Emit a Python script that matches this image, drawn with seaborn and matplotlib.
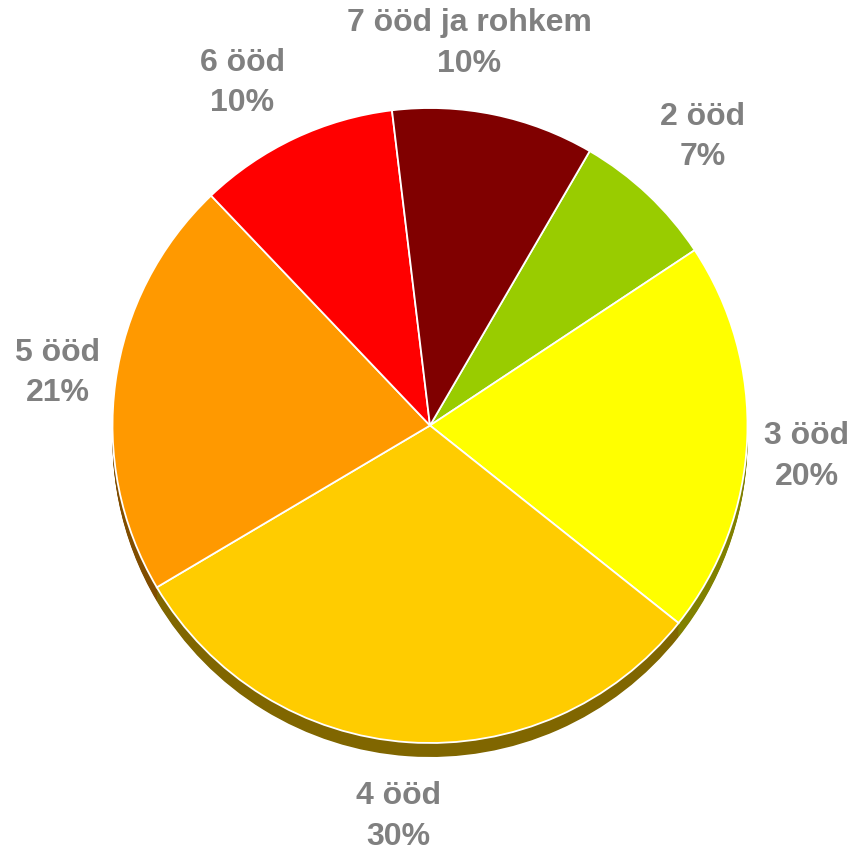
import matplotlib
matplotlib.use("Agg")
import matplotlib.pyplot as plt
import seaborn as sns
import numpy as np
from matplotlib.colors import to_rgb

categories = ["2 ööd", "3 ööd", "4 ööd", "5 ööd", "6 ööd", "7 ööd ja rohkem"]
values = [7.3, 20.0, 30.8, 21.4, 10.2, 10.3]
pct_labels = ["7%", "20%", "30%", "21%", "10%", "10%"]
colors = ["#99CC00", "#FFFF00", "#FFCC00", "#FF9900", "#FF0000", "#800000"]

# label layout (radius factor and angle nudge in degrees)
label_r = [1.25, 1.19, 1.235, 1.185, 1.23, 1.21]
label_nudge = [0.0, -2.2, -0.7, -0.1, 3.5, 5.8]

sns.set_style("white")
plt.rcParams["font.family"] = ["Liberation Sans", "DejaVu Sans"]

W, H = 853, 851
fig = plt.figure(figsize=(W / 100, H / 100), dpi=100)
ax = fig.add_axes([0, 0, 1, 1])

cx_px, cy_px, R_px = 430, 425.5, 317.5
startangle = 59.8
depth = 14 / R_px
shadow_colors = [tuple(c * 0.5 for c in to_rgb(col)) for col in colors]

# extruded side (3D depth)
for k in np.linspace(depth, 0.002, 16):
    ax.pie(values, colors=shadow_colors, startangle=startangle, counterclock=False,
           center=(0, -k), radius=1.0, frame=True,
           wedgeprops=dict(linewidth=0))

wedges, _ = ax.pie(values, colors=colors, startangle=startangle, counterclock=False,
                   center=(0, 0), radius=1.0, frame=True,
                   wedgeprops=dict(edgecolor="white", linewidth=1.3))

ax.set_xlim(-cx_px / R_px, (W - cx_px) / R_px)
ax.set_ylim(-(H - cy_px) / R_px, cy_px / R_px)
ax.set_aspect("auto")
ax.axis("off")

for w, cat, pct, r, nd in zip(wedges, categories, pct_labels, label_r, label_nudge):
    mid = np.deg2rad((w.theta1 + w.theta2) / 2 + nd)
    ax.text(r * np.cos(mid), r * np.sin(mid), f"{cat}\n{pct}",
            ha="center", va="center", fontsize=23, fontweight="bold",
            color="#808080", linespacing=1.45)

fig.savefig("out.png", dpi=100)
